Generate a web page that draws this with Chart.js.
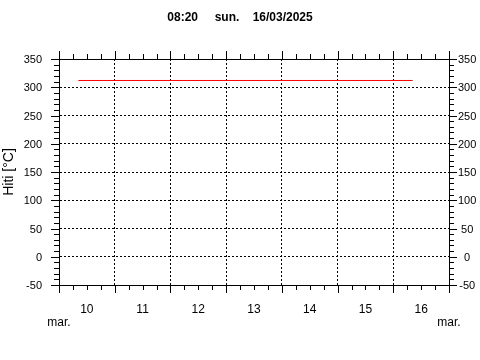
<!DOCTYPE html>
<html>
<head>
<meta charset="utf-8">
<script src="https://cdn.jsdelivr.net/npm/chart.js@4.4.1/dist/chart.umd.min.js"></script>
<style>
  html, body { margin: 0; padding: 0; background: #fff; }
  #wrap { width: 480px; height: 360px; }
</style>
</head>
<body>
<div id="wrap"><canvas id="chart" width="480" height="360"></canvas></div>
<script>
// readings: "day hh:mm" in March 2025, temperature in °C
const times = ['10 08:20', '16 08:20'];
const temps = [312, 312];
const dayLabels = [10, 11, 12, 13, 14, 15, 16];
const tempTicks = [-50, 0, 50, 100, 150, 200, 250, 300, 350];
const monthLabel = 'mar.';
const titleText = '08:20     sun.    16/03/2025';
const yTitle = 'Hiti [°C]';

const toDay = s => {
    const [d, hm] = s.split(' ');
    const [h, m] = hm.split(':').map(Number);
    return Number(d) + (h * 60 + m) / 1440;
};

const firstDay = dayLabels[0];
const lastDay = dayLabels[dayLabels.length - 1] + 1;

Chart.defaults.font.family = '"Liberation Sans", Arial, sans-serif';
Chart.defaults.color = '#000';

// small ticks round the frame + the top edge + month labels
const frameTicks = {
    id: 'frameTicks',
    afterDraw(chart) {
        const { ctx, chartArea: a, scales: { x, y } } = chart;
        const px = v => Math.round(v) + 0.5;
        ctx.save();
        ctx.strokeStyle = '#000';
        ctx.lineWidth = 1;
        ctx.beginPath();
        ctx.moveTo(a.left, px(a.top));
        ctx.lineTo(a.right, px(a.top));
        for (let h = 0; h <= (lastDay - firstDay) * 24; h += 6) {
            const xp = px(x.getPixelForValue(firstDay + h / 24));
            const len = h % 24 === 0 ? 8 : 5;
            ctx.moveTo(xp, a.bottom); ctx.lineTo(xp, a.bottom + len);
            ctx.moveTo(xp, a.top); ctx.lineTo(xp, a.top - len);
        }
        for (let v = tempTicks[0]; v <= tempTicks[tempTicks.length - 1]; v += 10) {
            const yp = px(y.getPixelForValue(v));
            const len = v % 50 === 0 ? 8 : 5;
            ctx.moveTo(a.left, yp); ctx.lineTo(a.left - len, yp);
            ctx.moveTo(a.right, yp); ctx.lineTo(a.right + len, yp);
        }
        ctx.stroke();

        ctx.font = '12px "Liberation Sans", Arial, sans-serif';
        ctx.fillStyle = '#000';
        ctx.textAlign = 'center';
        ctx.textBaseline = 'middle';
        ctx.fillText(monthLabel, x.getPixelForValue(firstDay), a.bottom + 38);
        ctx.fillText(monthLabel, x.getPixelForValue(lastDay), a.bottom + 38);
        ctx.restore();
    }
};

const xTicks = () => {
    const out = [];
    dayLabels.forEach(d => { out.push({ value: d }); out.push({ value: d + 0.5 }); });
    out.push({ value: lastDay });
    return out;
};

new Chart(document.getElementById('chart'), {
    type: 'line',
    data: {
        datasets: [{
            data: times.map((t, i) => ({ x: toDay(t), y: temps[i] })),
            borderColor: '#ff0000',
            borderWidth: 1,
            pointRadius: 0,
            fill: false
        }]
    },
    options: {
        responsive: false,
        animation: false,
        layout: { padding: 0 },
        plugins: {
            legend: { display: false },
            tooltip: { enabled: false },
            title: {
                display: true,
                text: titleText,
                font: { size: 12, weight: 'bold' },
                color: '#000',
                padding: { top: 10, bottom: 34.6 }
            }
        },
        scales: {
            x: {
                type: 'linear',
                min: firstDay,
                max: lastDay,
                afterBuildTicks: s => { s.ticks = xTicks(); },
                afterFit: s => { s.height = 75; },
                ticks: {
                    autoSkip: false,
                    maxRotation: 0,
                    padding: 17,
                    font: { size: 12 },
                    callback: v => Number.isInteger(v) ? '' : String(Math.floor(v))
                },
                grid: {
                    drawTicks: false,
                    color: c => c.tick && Number.isInteger(c.tick.value) ? '#000' : 'rgba(0,0,0,0)'
                },
                border: { display: true, color: '#000', dash: [2, 2] }
            },
            y: {
                position: 'left',
                min: tempTicks[0],
                max: tempTicks[tempTicks.length - 1],
                afterBuildTicks: s => { s.ticks = tempTicks.map(v => ({ value: v })); },
                afterFit: s => { s.width = 59; },
                ticks: { padding: 17, labelOffset: 1, font: { size: 11 } },
                grid: { drawTicks: false, color: '#000' },
                border: { display: true, color: '#000', dash: [2, 2] },
                title: { display: true, text: yTitle, font: { size: 14 }, padding: { top: 1, bottom: 0 } }
            },
            y2: {
                position: 'right',
                min: tempTicks[0],
                max: tempTicks[tempTicks.length - 1],
                afterBuildTicks: s => { s.ticks = tempTicks.map(v => ({ value: v })); },
                afterFit: s => { s.width = 31; },
                ticks: { padding: 9, labelOffset: 1, crossAlign: 'center', font: { size: 11 } },
                grid: { drawTicks: false, drawOnChartArea: false },
                border: { display: true, color: '#000' }
            }
        }
    },
    plugins: [frameTicks]
});
</script>
</body>
</html>
